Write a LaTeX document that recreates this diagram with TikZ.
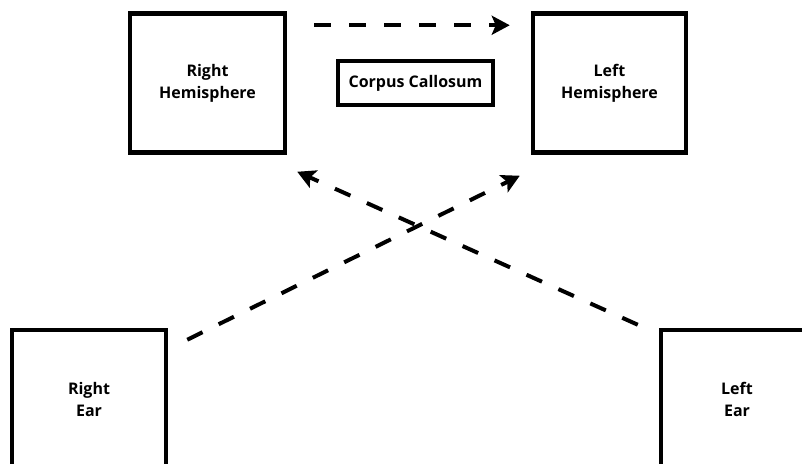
\documentclass[tikz,border=0pt]{standalone}
\usepackage{fontspec}
\setmainfont{Open Sans}
\usetikzlibrary{arrows.meta}
\begin{document}
\begin{tikzpicture}[x=1pt, y=1pt,
    box/.style={draw, line width=4.5pt, inner sep=0pt, align=center,
      font=\fontsize{16}{22}\selectfont\bfseries},
    dasharrow/.style={line width=4pt, dash pattern=on 17pt off 18pt,
      -{Stealth[length=18pt, width=19pt, inset=4pt]}}]
  \useasboundingbox (0,0) rectangle (802,463);
  \node[box, minimum width=155pt, minimum height=139pt] (rhem) at (207.5,380) {Right\\Hemisphere};
  \node[box, minimum width=155pt, minimum height=44pt] (cc) at (415.5,380) {Corpus Callosum};
  \node[box, minimum width=153pt, minimum height=139pt] (lhem) at (609.5,380) {Left\\Hemisphere};
  \node[box, minimum width=154pt, minimum height=138pt] (rear) at (89,64) {Right\\Ear};
  \node[box, minimum width=152pt, minimum height=138pt] (lear) at (737,64) {Left\\Ear};
  \draw[dasharrow] ([xshift=27pt, yshift=-14pt]rhem.north east) -- ([xshift=-21pt, yshift=-14pt]lhem.north west);
  \draw[dasharrow] ([xshift=19pt, yshift=-12pt]rear.north east) -- ([xshift=-11pt, yshift=-21pt]lhem.south west);
  \draw[dasharrow] ([xshift=-21pt, yshift=3pt]lear.north west) -- ([xshift=10pt, yshift=-17pt]rhem.south east);
\end{tikzpicture}
\end{document}
